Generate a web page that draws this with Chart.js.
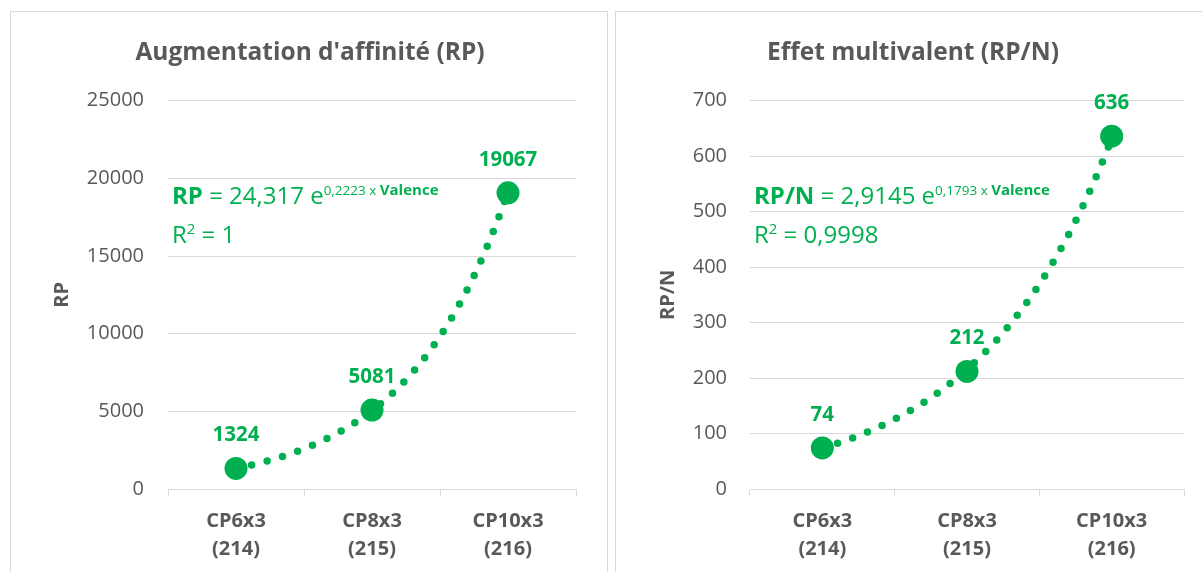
<!DOCTYPE html>
<html lang="fr">
<head>
<meta charset="utf-8">
<title>Augmentation d'affinité et effet multivalent</title>
<script src="https://cdn.jsdelivr.net/npm/chart.js@4.4.1/dist/chart.umd.min.js"></script>
<style>
   html, body { margin: 0; padding: 0; background: #fff; overflow: hidden; }
   body { width: 1202px; height: 572px; position: relative; }
   .panel { position: absolute; top: 11px; width: 596px; height: 600px; border: 1px solid #d9d9d9; background: #fff; }
   #panel-rp { left: 10px; }
   #panel-rpn { left: 615px; }
   .panel canvas { display: block; }
</style>
</head>
<body>
<div class="panel" id="panel-rp"><canvas id="chart-rp" width="596" height="560"></canvas></div>
<div class="panel" id="panel-rpn"><canvas id="chart-rpn" width="596" height="560"></canvas></div>

<script>
const categories = [['CP6x3', '(214)'], ['CP8x3', '(215)'], ['CP10x3', '(216)']];
const valence = [18, 24, 30];

const rpValues = [1324, 5081, 19067];
const rpnValues = [74, 212, 636];

// y axis limits : [max, step]
const rpAxis = [25000, 5000];
const rpnAxis = [700, 100];

// exponential trend a·e^(b·Valence) : [a, b], then R²
const rpTrend = [24.317, 0.2223];
const rpnTrend = [2.9145, 0.1793];
const rpR2 = 1;
const rpnR2 = 0.9998;

const FONT = "'Open Sans', 'Noto Sans', sans-serif";
const GREY = '#595959';
const GREEN = '#00b050';
const GRID = '#d9d9d9';

function frNumber(n) {
   return String(n).replace('.', ',');
}

// dotted trend curve, drawn from the equation through the chart scales
const trendPlugin = {
   id: 'trend',
   beforeDatasetsDraw(chart, args, opts) {
      const xs = chart.scales.x;
      const ys = chart.scales.y;
      const [a, b] = opts.coef;
      const v0 = valence[0];
      const step = valence[1] - valence[0];
      const vLast = valence[valence.length - 1];
      const ctx = chart.ctx;
      ctx.save();
      ctx.beginPath();
      const n = 120;
      for (let i = 0; i <= n; i++) {
         const v = v0 + (vLast - v0) * i / n;
         const px = xs.getPixelForValue((v - v0) / step);
         const py = ys.getPixelForValue(a * Math.exp(b * v));
         if (i === 0) ctx.moveTo(px, py); else ctx.lineTo(px, py);
      }
      ctx.strokeStyle = GREEN;
      ctx.lineWidth = 7.5;
      ctx.lineCap = 'round';
      ctx.setLineDash([0, 16]);
      ctx.stroke();
      ctx.restore();
   }
};

// value above each marker
const valueLabels = {
   id: 'valueLabels',
   afterDatasetsDraw(chart) {
      const ctx = chart.ctx;
      const meta = chart.getDatasetMeta(0);
      const values = chart.data.datasets[0].data;
      ctx.save();
      ctx.font = `bold 20.5px ${FONT}`;
      ctx.fillStyle = GREEN;
      ctx.textAlign = 'center';
      ctx.textBaseline = 'middle';
      meta.data.forEach((pt, i) => {
         ctx.fillText(String(values[i]), pt.x, pt.y - 33);
      });
      ctx.restore();
   }
};

function drawRich(ctx, x, y, parts) {
   for (const [text, size, bold, rise] of parts) {
      ctx.font = `${bold ? 'bold ' : ''}${size}px ${FONT}`;
      ctx.fillText(text, x, y - rise);
      x += ctx.measureText(text).width;
   }
}

// trend equation and R² written in the plot area
const equationPlugin = {
   id: 'equation',
   afterDraw(chart, args, opts) {
      const ctx = chart.ctx;
      const area = chart.chartArea;
      const [a, b] = opts.coef;
      const x = area.left + 4;
      ctx.save();
      ctx.fillStyle = GREEN;
      ctx.textAlign = 'left';
      ctx.textBaseline = 'alphabetic';
      drawRich(ctx, x, area.top + 103, [
         [opts.name, 24, true, 0],
         [' = ' + frNumber(a) + ' e', 24, false, 0],
         [frNumber(b) + ' x ', 13.5, false, 9],
         ['Valence', 15, true, 9]
      ]);
      drawRich(ctx, x, area.top + 142, [
         ['R', 24, false, 0],
         ['2', 15, false, 9],
         [' = ' + frNumber(opts.r2), 24, false, 0]
      ]);
      ctx.restore();
   }
};

function createChart(element, opt) {
   return new Chart(element, {
      type: 'line',
      data: {
         labels: categories,
         datasets: [{
            data: opt.values,
            showLine: false,
            pointRadius: 11.5,
            pointBackgroundColor: GREEN,
            pointBorderWidth: 0
         }]
      },
      options: {
         responsive: false,
         animation: false,
         layout: {
            padding: { left: opt.padLeft, right: opt.padRight, top: 0, bottom: 0 }
         },
         plugins: {
            legend: { display: false },
            tooltip: { enabled: false },
            title: {
               display: true,
               text: opt.title,
               color: GREY,
               font: { family: FONT, size: 24.5, weight: 'bold', lineHeight: 1.2 },
               padding: { top: 26.3, bottom: 33 }
            },
            trend: { coef: opt.trend },
            equation: { coef: opt.trend, name: opt.axisTitle, r2: opt.r2 }
         },
         scales: {
            x: {
               offset: true,
               grid: {
                  offset: true,
                  drawOnChartArea: false,
                  drawTicks: true,
                  tickLength: 7,
                  color: GRID
               },
               border: { display: true, color: GRID, width: 1 },
               ticks: {
                  color: GREY,
                  font: { family: FONT, size: 20, weight: 'bold', lineHeight: 1.4 },
                  padding: 11,
                  maxRotation: 0,
                  autoSkip: false
               },
               afterFit: (scale) => { scale.height = 83; }
            },
            y: {
               min: 0,
               max: opt.axis[0],
               ticks: {
                  stepSize: opt.axis[1],
                  padding: opt.tickPad,
                  color: GREY,
                  font: { family: FONT, size: 20 },
                  callback: (value) => String(value)
               },
               grid: { color: GRID, drawTicks: false },
               border: { display: false },
               title: {
                  display: true,
                  text: opt.axisTitle,
                  color: GREY,
                  font: { family: FONT, size: 20, weight: 'bold', lineHeight: 1.2 },
                  padding: { top: opt.titlePad, bottom: 0 }
               },
               afterFit: (scale) => { scale.width = opt.yWidth; }
            }
         }
      },
      plugins: [trendPlugin, valueLabels, equationPlugin]
   });
}

createChart(document.getElementById('chart-rp'), {
   title: "Augmentation d'affinité (RP)",
   axisTitle: 'RP',
   values: rpValues,
   axis: rpAxis,
   trend: rpTrend,
   r2: rpR2,
   yWidth: 124,
   tickPad: 24,
   titlePad: 6,
   padLeft: 33,
   padRight: 31
});

createChart(document.getElementById('chart-rpn'), {
   title: 'Effet multivalent (RP/N)',
   axisTitle: 'RP/N',
   values: rpnValues,
   axis: rpnAxis,
   trend: rpnTrend,
   r2: rpnR2,
   yWidth: 108,
   tickPad: 23,
   titlePad: 14,
   padLeft: 26,
   padRight: 28
});
</script>
</body>
</html>
